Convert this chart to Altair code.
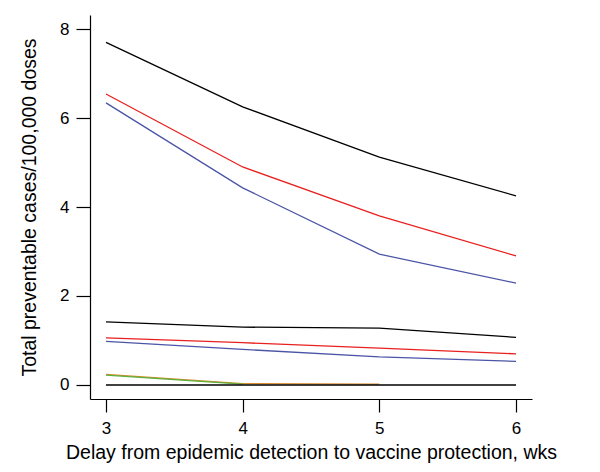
import altair as alt
import pandas as pd

delay_weeks = [3, 4, 5, 6]

# series values (total preventable cases / 100,000 doses)
black_high = [7.70, 6.25, 5.12, 4.25]
red_high = [6.54, 4.90, 3.80, 2.90]
blue_high = [6.34, 4.43, 2.94, 2.29]
black_low = [1.42, 1.30, 1.28, 1.07]
red_low = [1.06, 0.95, 0.83, 0.70]
blue_low = [0.98, 0.80, 0.63, 0.53]
green_low = [0.22, 0.02]
orange_low = [0.24, 0.03, 0.02]
black_zero = [0.0, 0.0, 0.0, 0.0]

series = [
    ("black_high", black_high, "#000000"),
    ("red_high", red_high, "#e8201e"),
    ("blue_high", blue_high, "#4b55a6"),
    ("black_low", black_low, "#000000"),
    ("red_low", red_low, "#e8201e"),
    ("blue_low", blue_low, "#4b55a6"),
    ("orange_low", orange_low, "#d98a2b"),
    ("green_low", green_low, "#5cb03c"),
    ("black_zero", black_zero, "#000000"),
]

x_scale = alt.Scale(domain=[2.883, 6.117], nice=False, zero=False)
y_scale = alt.Scale(domain=[-0.315, 8.315], nice=False, zero=False)

font = "Liberation Sans"

layers = []
for i, (name, vals, col) in enumerate(series):
    df = pd.DataFrame({"x": delay_weeks[: len(vals)], "y": vals})
    if i == 0:
        xenc = alt.X(
            "x:Q",
            scale=x_scale,
            axis=alt.Axis(
                values=[3, 4, 5, 6],
                format="d",
                title="Delay from epidemic detection to vaccine protection, wks",
                grid=False,
                tickSize=13,
                labelPadding=8,
                titlePadding=7,
            ),
        )
        yenc = alt.Y(
            "y:Q",
            scale=y_scale,
            axis=alt.Axis(
                values=[0, 2, 4, 6, 8],
                format="d",
                title="Total preventable cases/100,000 doses",
                grid=False,
                tickSize=14,
                labelPadding=7,
                titlePadding=20,
            ),
        )
    else:
        xenc = alt.X("x:Q", scale=x_scale)
        yenc = alt.Y("y:Q", scale=y_scale)
    layers.append(
        alt.Chart(df)
        .mark_line(color=col, strokeWidth=1.3)
        .encode(x=xenc, y=yenc)
    )

chart = (
    alt.layer(*layers)
    .properties(
        width=442,
        height=384,
        autosize=alt.AutoSizeParams(type="none"),
        padding={"left": 82, "top": 7, "right": 60, "bottom": 65},
    )
    .configure_view(stroke=None)
    .configure_axis(
        domainColor="#000000",
        tickColor="#000000",
        domainWidth=1.2,
        tickWidth=1.2,
        labelFont=font,
        titleFont=font,
        labelFontSize=17,
        titleFontSize=19.5,
        labelColor="#000000",
        titleColor="#000000",
        titleFontWeight="normal",
    )
)

chart.save("out.html", embed_options={"renderer": "svg", "actions": False})
